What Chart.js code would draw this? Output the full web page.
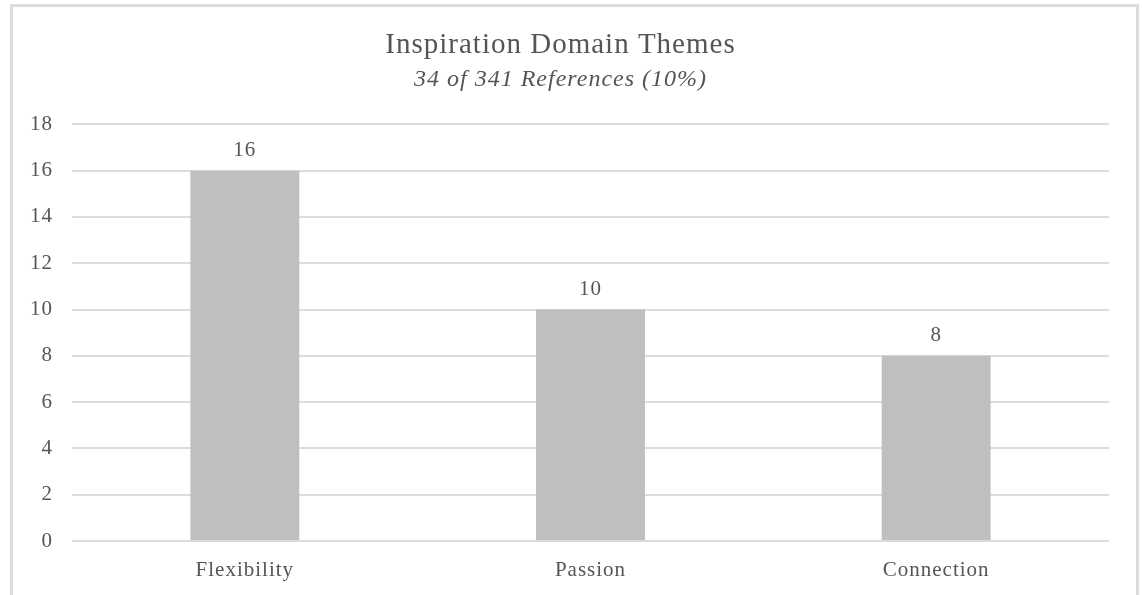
<!DOCTYPE html>
<html>
<head>
<meta charset="utf-8">
<title>Inspiration Domain Themes</title>
<script src="https://cdn.jsdelivr.net/npm/chart.js@4/dist/chart.umd.min.js"></script>
<style>
  html, body { margin: 0; padding: 0; background: #fff; }
  #frame {
    position: absolute; left: 10px; top: 4px;
    width: 1129px; height: 620px;
    box-sizing: border-box;
    border: 3px solid #dcdcdc; border-bottom: none;
  }
  #themes { position: absolute; left: 0; top: 0; }
</style>
</head>
<body>
<div id="frame"></div>
<canvas id="themes" width="1142" height="595"></canvas>
<script>
const themes = ['Flexibility', 'Passion', 'Connection']
const references = [16, 10, 8]

const yMin = 0
const yMax = 18
const yStep = 2

const grey = '#555555'
const serif = "'Liberation Serif', 'Times New Roman', serif"

// value labels above each bar
const barValues = {
    id: 'barValues',
    afterDatasetsDraw(chart) {
        const ctx = chart.ctx
        const meta = chart.getDatasetMeta(0)
        ctx.save()
        ctx.font = '21px ' + serif
        ctx.fillStyle = grey
        ctx.textAlign = 'center'
        ctx.textBaseline = 'alphabetic'
        meta.data.forEach((bar, i) => {
            ctx.fillText(String(references[i]), bar.x, bar.y - 14.5)
        })
        ctx.restore()
    }
}

// the text in this chart is set a little loose
const spacing = {
    id: 'spacing',
    beforeLayout(chart) { chart.ctx.letterSpacing = '1px' },
    beforeDraw(chart) { chart.ctx.letterSpacing = '1px' },
    afterDraw(chart) { chart.ctx.letterSpacing = '0px' }
}

const ctx = document.getElementById('themes').getContext('2d')

const chart = new Chart(ctx, {
    type: 'bar',
    data: {
        labels: themes,
        datasets: [{
            data: references,
            backgroundColor: '#bfbfbf',
            borderWidth: 0,
            categoryPercentage: 1,
            barPercentage: 0.315
        }]
    },
    options: {
        responsive: false,
        animation: false,
        layout: {
            padding: { top: 10, left: 12, right: 33, bottom: 14 }
        },
        plugins: {
            legend: { display: false },
            tooltip: { enabled: false },
            title: {
                display: true,
                text: 'Inspiration Domain Themes',
                color: grey,
                font: { family: serif, size: 29, weight: 'normal', lineHeight: 1.2 },
                padding: { top: 18, bottom: 0 }
            },
            subtitle: {
                display: true,
                text: '34 of 341 References (10%)',
                color: grey,
                font: { family: serif, size: 24, style: 'italic', lineHeight: 1.2 },
                padding: { top: 2.4, bottom: 30.4 }
            }
        },
        scales: {
            x: {
                afterFit(scale) { scale.height = 40 },
                grid: { display: false, drawTicks: false },
                border: { display: false },
                ticks: {
                    color: grey,
                    padding: 17,
                    font: { family: serif, size: 21 }
                }
            },
            y: {
                min: yMin,
                max: yMax,
                afterFit(scale) { scale.width = 60 },
                grid: {
                    color: '#dcdcdc',
                    lineWidth: 2,
                    drawTicks: false
                },
                border: { display: false },
                ticks: {
                    stepSize: yStep,
                    color: grey,
                    padding: 19,
                    font: { family: serif, size: 21 }
                }
            }
        }
    },
    plugins: [spacing, barValues]
})
</script>
</body>
</html>
